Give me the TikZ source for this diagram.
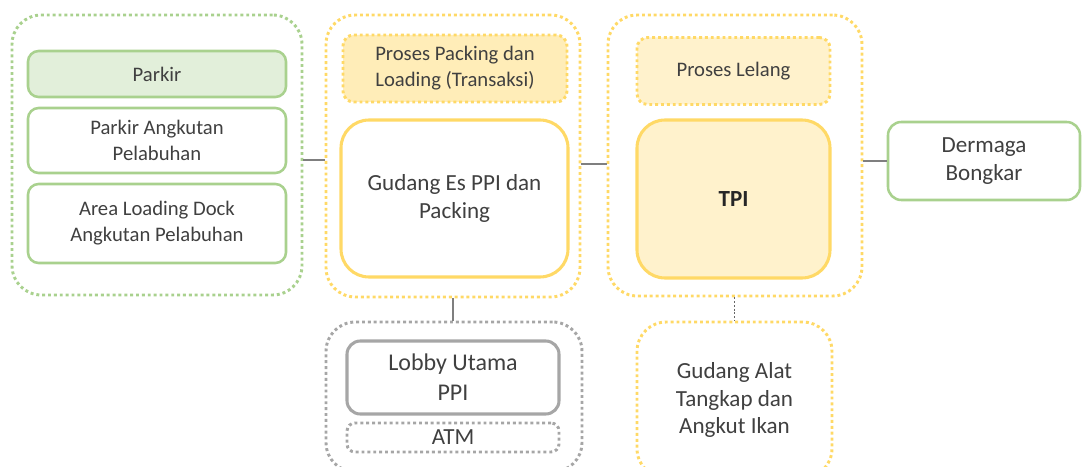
\documentclass[tikz,border=0pt]{standalone}
\usepackage{fontspec}
\setmainfont{Carlito}
\definecolor{grnline}{HTML}{A9D18E}
\definecolor{grnfill}{HTML}{E2EFDA}
\definecolor{ylwline}{HTML}{FFD966}
\definecolor{ylwfill}{HTML}{FFF2CC}
\definecolor{gryline}{HTML}{A6A6A6}
\definecolor{txt}{HTML}{404040}
\definecolor{conn}{HTML}{7F7F7F}
\begin{document}
\begin{tikzpicture}[x=0.75pt,y=-0.75pt,
  sz/.style 2 args={minimum width=#1*0.75pt, minimum height=#2*0.75pt, inner sep=0pt},
  dotline/.style={line width=2.2pt, dash pattern=on 2.2pt off 2.2pt},
  grp/.style={draw, dotline, rounded corners=22pt},
  small/.style={font=\fontsize{15.5}{19.5}\selectfont, text=txt, align=center},
  big/.style={font=\fontsize{17.3}{20.5}\selectfont, text=txt, align=center},
  grnbox/.style={draw=grnline, line width=1.9pt, rounded corners=8pt, fill=white},
  link/.style={draw=conn, line width=1.5pt}
]
\useasboundingbox (0,0) rectangle (1082,467);

% parking cluster
\node[grp, draw=grnline, sz={290}{280}] (leftgrp) at (157,155) {};
\node[grnbox, fill=grnfill, sz={258}{46}, small] (parkir) at (157,74) {Parkir};
\node[grnbox, sz={258}{65}, small] (parkirA) at (157,140.5) {Parkir Angkutan\\Pelabuhan};
\node[grnbox, sz={258}{79}, small] (area) at (157,223.5) {Area Loading Dock\\Angkutan Pelabuhan};

% ice storage and packing cluster
\node[grp, draw=ylwline, sz={254}{282}] (midgrp) at (453,156) {};
\node[draw=ylwline, dotline, fill=ylwfill!80!ylwline, rounded corners=8pt, sz={224}{67}, small] (packing) at (455,68.5) {Proses Packing dan\\Loading (Transaksi)};
\node[draw=ylwline, line width=2.3pt, fill=white, rounded corners=21pt, sz={227}{157}, big] (gudangEs) at (454.5,198.5) {Gudang Es PPI dan\\Packing};

% auction cluster
\node[grp, draw=ylwline, sz={254}{281}] (rightgrp) at (735,155.5) {};
\node[draw=ylwline, dotline, fill=ylwfill, rounded corners=8pt, sz={193}{67}, small] (lelang) at (733.5,71) {Proses Lelang};
\node[draw=ylwline, line width=2.3pt, fill=ylwfill, rounded corners=21pt, sz={193}{158}, font=\fontsize{17.3}{20.5}\selectfont\bfseries, text=black!85] (tpi) at (733.5,199) {TPI};

% unloading wharf
\node[grnbox, rounded corners=10pt, sz={192}{78}, big] (dermaga) at (984,161) {Dermaga\\Bongkar};

% main lobby cluster
\node[grp, draw=gryline, sz={256}{150}] (lobbygrp) at (454,397) {};
\node[draw=gryline, line width=2.3pt, rounded corners=10pt, sz={212}{73}, font=\fontsize{18}{22.5}\selectfont, text=txt, align=center] (lobby) at (453,377.5) {Lobby Utama\\PPI};
\node[draw=gryline, dotline, rounded corners=6pt, sz={212}{29}, big] (atm) at (453,437.5) {ATM};

% fishing gear storage
\node[grp, draw=ylwline, sz={195}{156}, big] (alatgrp) at (734.5,400) {Gudang Alat\\Tangkap dan\\Angkut Ikan};

% connectors
\draw[link] ([yshift=-3.75pt]leftgrp.east) -- ([yshift=-3.75pt]leftgrp.east -| midgrp.west);
\draw[link] ([yshift=-6pt]midgrp.east) -- ([yshift=-6pt]midgrp.east -| rightgrp.west);
\draw[link] (dermaga.west -| rightgrp.east) -- (dermaga.west);
\draw[link] (midgrp.south) -- (midgrp.south |- lobbygrp.north);
\draw[draw=conn!80!black, line width=1.4pt, dash pattern=on 1.4pt off 1.4pt] (rightgrp.south -| alatgrp.north) -- (alatgrp.north);
\end{tikzpicture}
\end{document}
